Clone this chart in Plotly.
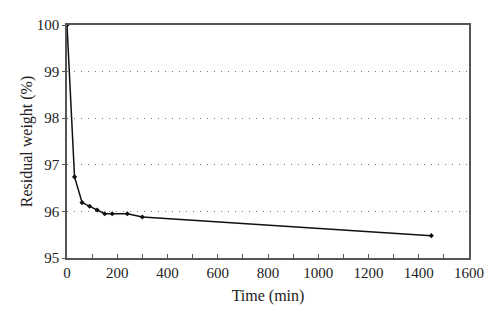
import plotly.graph_objects as go

# Residual weight over time
time_min = [0, 30, 60, 90, 120, 150, 180, 240, 300, 1450]
residual_weight = [100.0, 96.74, 96.19, 96.11, 96.03, 95.95, 95.95, 95.95, 95.88, 95.48]

x_ticks = [0, 200, 400, 600, 800, 1000, 1200, 1400, 1600]
y_ticks = [95, 96, 97, 98, 99, 100]

font_family = "Liberation Serif"
axis_color = "#555555"

fig = go.Figure()
fig.add_trace(go.Scatter(
    x=time_min,
    y=residual_weight,
    mode="lines+markers",
    line=dict(color="#111111", width=1.5),
    marker=dict(symbol="diamond", size=4, color="#111111"),
    showlegend=False,
))

fig.update_layout(
    width=500,
    height=326,
    margin=dict(l=67, r=31, t=25, b=68),
    paper_bgcolor="white",
    plot_bgcolor="white",
    font=dict(family=font_family, size=15, color="#222222"),
)

fig.update_xaxes(
    range=[0, 1600],
    tickmode="array",
    tickvals=x_ticks,
    ticktext=[str(v) for v in x_ticks],
    ticks="inside",
    ticklen=4,
    tickcolor=axis_color,
    tickfont=dict(family=font_family, size=15),
    minor=dict(dtick=100, tick0=0, ticks="inside", ticklen=4, tickcolor=axis_color, showgrid=False),
    showline=True,
    linecolor=axis_color,
    linewidth=1.5,
    mirror=True,
    showgrid=False,
    zeroline=False,
    title=dict(text="Time (min)", font=dict(family=font_family, size=16), standoff=10),
)

fig.update_yaxes(
    range=[95, 100],
    tickmode="array",
    tickvals=y_ticks,
    ticktext=[str(v) for v in y_ticks],
    ticks="outside",
    ticklen=3,
    tickcolor=axis_color,
    tickfont=dict(family=font_family, size=15),
    showline=True,
    linecolor=axis_color,
    linewidth=1.5,
    mirror=True,
    showgrid=True,
    gridcolor="#777777",
    gridwidth=1,
    griddash="1px,6px",
    zeroline=False,
    title=dict(text="Residual weight (%)", font=dict(family=font_family, size=16), standoff=0),
)

fig.write_html("out.html")
